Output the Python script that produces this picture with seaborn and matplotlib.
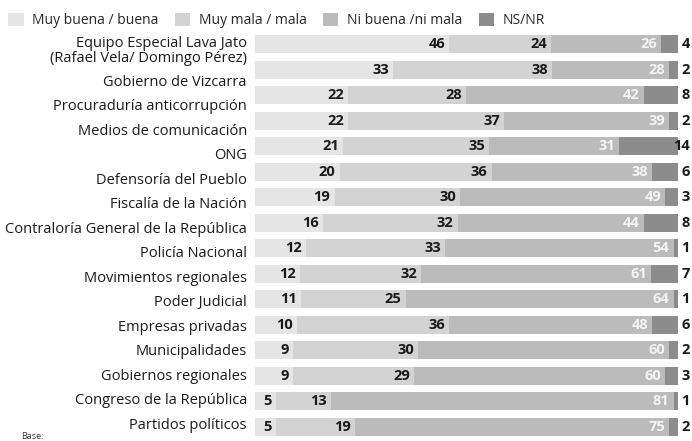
import pandas as pd
import seaborn as sns
from matplotlib import pyplot as plt
from matplotlib.patches import Patch

# Institutions, top to bottom
categories = [
    "Equipo Especial Lava Jato\n(Rafael Vela/ Domingo Pérez)",
    "Gobierno de Vizcarra",
    "Procuraduría anticorrupción",
    "Medios de comunicación",
    "ONG",
    "Defensoría del Pueblo",
    "Fiscalía de la Nación",
    "Contraloría General de la República",
    "Policía Nacional",
    "Movimientos regionales",
    "Poder Judicial",
    "Empresas privadas",
    "Municipalidades",
    "Gobiernos regionales",
    "Congreso de la República",
    "Partidos políticos",
]

# Printed values of each segment, in legend order
muy_buena = [46, 33, 22, 22, 21, 20, 19, 16, 12, 12, 11, 10, 9, 9, 5, 5]
muy_mala = [24, 38, 28, 37, 35, 36, 30, 32, 33, 32, 25, 36, 30, 29, 13, 19]
ni_buena = [26, 28, 42, 39, 31, 38, 49, 44, 54, 61, 64, 48, 60, 60, 81, 75]
ns_nr = [4, 2, 8, 2, 14, 6, 3, 8, 1, 7, 1, 6, 2, 3, 1, 2]

legend_labels = ["Muy buena / buena", "Muy mala / mala", "Ni buena /ni mala", "NS/NR"]
colors = ["#e5e5e5", "#d3d3d3", "#bbbbbb", "#8c8c8c"]

sns.set_theme(style="white")
plt.rcParams['font.family'] = ['Open Sans', 'DejaVu Sans']

df = pd.DataFrame({
    'categoria': categories,
    'muy_buena': muy_buena,
    'muy_mala': muy_mala,
    'ni_buena': ni_buena,
    'ns_nr': ns_nr,
})
series = ['muy_buena', 'muy_mala', 'ni_buena', 'ns_nr']

# bars all run to 100%, so scale each row by its printed total
pct = df[series].div(df[series].sum(axis=1), axis=0) * 100
cum = pct.cumsum(axis=1)

fig = plt.figure(figsize=(6.92, 4.41), dpi=100)
ax = fig.add_axes([0.3685, 0.003, 0.611, 0.926])

# stacked bars: draw the cumulative totals from the longest to the shortest
for col, color in reversed(list(zip(series, colors))):
    sns.barplot(x=cum[col], y=df['categoria'], orient='h', color=color,
                saturation=1, width=0.7, errorbar=None, linewidth=0, ax=ax)

ax.set_xlim(0, 100)
ax.set_ylim(15.5, -0.5)
ax.set_axis_off()

num_size = 10.5
label_tf = ax.get_yaxis_transform()
row_px = 25.5  # pixels per bar row
for i, cat in enumerate(categories):
    ends = cum.iloc[i]
    ax.text(ends['muy_buena'] - 1, i, str(muy_buena[i]), ha='right', va='center',
            fontsize=num_size, fontweight='bold', color='#1a1a1a')
    ax.text(ends['muy_mala'] - 1, i, str(muy_mala[i]), ha='right', va='center',
            fontsize=num_size, fontweight='bold', color='#1a1a1a')
    ax.text(ends['ni_buena'] - 1, i, str(ni_buena[i]), ha='right', va='center',
            fontsize=num_size, fontweight='bold', color='#f4f4f4')
    ax.text(102.8, i, str(ns_nr[i]), ha='right', va='center',
            fontsize=num_size, fontweight='bold', color='#1a1a1a', clip_on=False)

    # the names run on a slightly tighter pitch than the bars
    n_lines = cat.count("\n") + 1
    y_lab = i + (13.5 - i) / row_px - (n_lines - 1) * 6.5 / row_px
    ax.text(-0.019, y_lab, cat, transform=label_tf, ha='right', va='center',
            fontsize=10.5, color='#1a1a1a', linespacing=1.0, clip_on=False)

handles = [Patch(facecolor=c, edgecolor='none') for c in colors]
fig.legend(handles, legend_labels, loc='upper left', bbox_to_anchor=(0.0, 0.99),
           ncol=4, frameon=False, fontsize=10, handlelength=1.1, handleheight=1.1,
           handletextpad=0.6, columnspacing=1.2, borderaxespad=0.2)

fig.text(0.03, 0.0, "Base:", fontsize=6.5, color='#333333', va='bottom')

plt.savefig('out.png', dpi=100)
plt.close()
